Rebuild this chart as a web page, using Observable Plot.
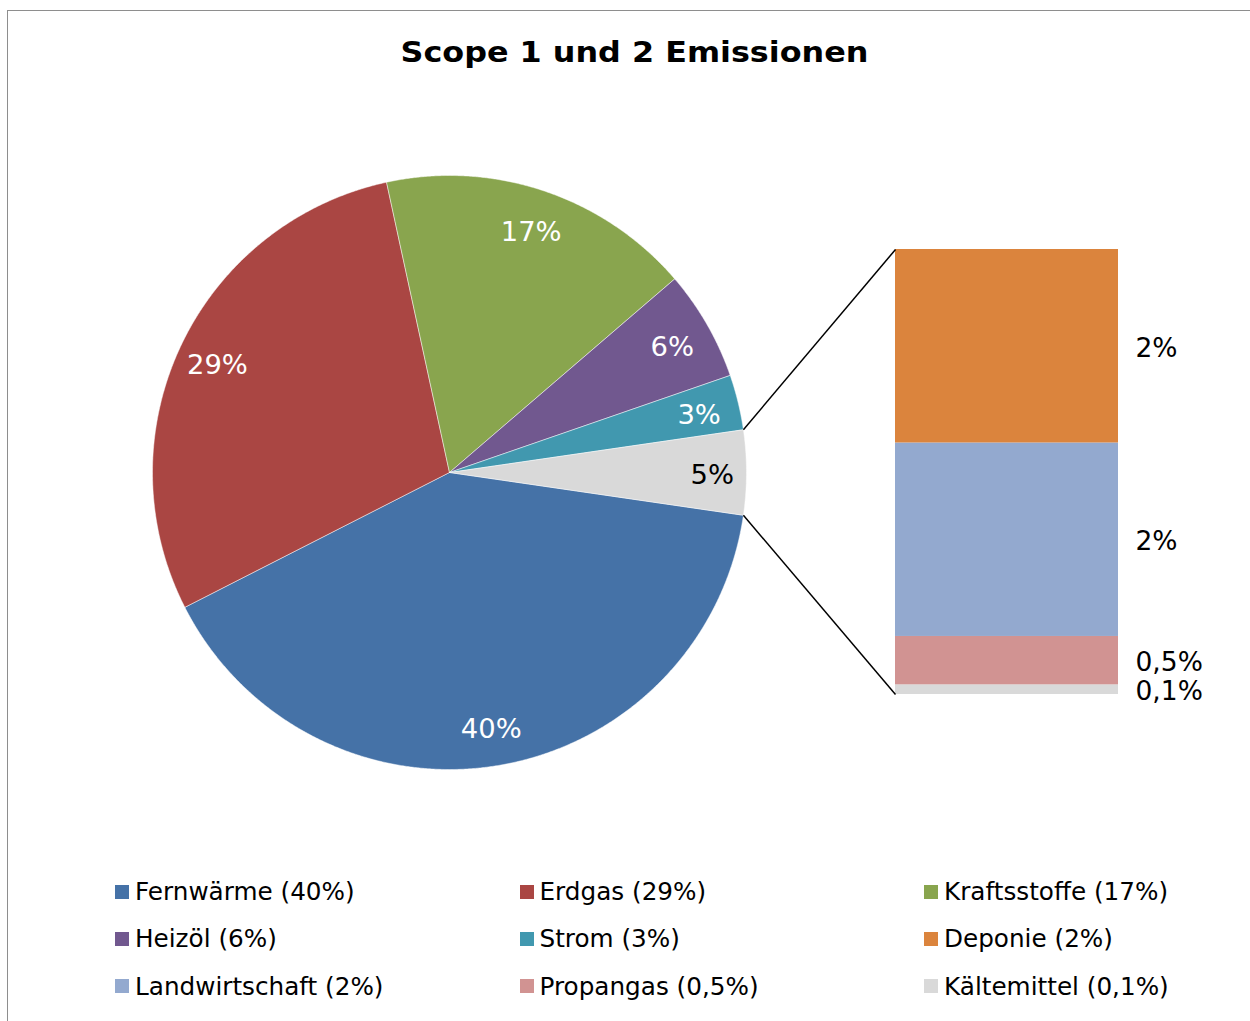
<!DOCTYPE html>
<html>
<head>
<meta charset="utf-8">
<script src="https://cdn.jsdelivr.net/npm/d3@7"></script>
<script src="https://cdn.jsdelivr.net/npm/@observablehq/plot@0.6"></script>
<style>
html, body { margin: 0; padding: 0; background: #fff; overflow: hidden; width: 1250px; height: 1021px; }
body { font-family: "DejaVu Sans", Verdana, sans-serif; position: relative; }
#frame { position: absolute; left: 7px; top: 10px; width: 1400px; height: 1200px;
  border-left: 1.5px solid #8e8e8e; border-top: 1.5px solid #8e8e8e; box-sizing: border-box; }
#title { position: absolute; left: 0; width: 1269px; top: 31px; line-height: 44px; text-align: center;
  font-weight: bold; font-size: 28.5px; color: #000; transform: scaleX(1.116); transform-origin: 634.5px 50%; }
#chart { position: absolute; left: 0; top: 90px; }
.item { position: absolute; display: flex; align-items: center; height: 30px; font-size: 24.7px; color: #000; white-space: nowrap; }
.sw { display: inline-block; width: 14px; height: 14px; margin-right: 6px; }
</style>
</head>
<body>
<div id="frame"></div>
<div id="title"></div>
<div id="chart"></div>
<div id="legend"></div>
<script>
// ---- data ----
const chartTitle = "Scope 1 und 2 Emissionen";
const categories = ["Fernwärme", "Erdgas", "Kraftsstoffe", "Heizöl", "Strom", "Deponie", "Landwirtschaft", "Propangas", "Kältemittel"];
const values = [40.2, 29.1, 17.1, 6.0, 3.0, 2.0, 2.0, 0.5, 0.1];
const colors = ["#4572A7", "#AA4643", "#89A54E", "#71588F", "#4198AF", "#DB843D", "#93A9CF", "#D19392", "#D9D9D9"];
const pieCount = 5;            // first five in the pie, the rest in the bar
const otherName = "Sonstige";
const otherColor = "#D9D9D9";

// ---- helpers ----
const fmt = v => v >= 1 ? Math.round(v) + "%" : v.toFixed(1).replace(".", ",") + "%";

document.getElementById("title").textContent = chartTitle;

// ---- layout ----
const W = 1250, H = 760, svgTop = 90;
const cx = 449, cy = 472 - svgTop, R = 297;
const barLeftPx = 895, barRightPx = 1118, barTopPx = 249 - svgTop, barBottomPx = 694 - svgTop;
const ux = px => (px - cx) / R;
const uy = py => (cy - py) / R;

// ---- pie slices ----
const total = d3.sum(values);
const otherVals = values.slice(pieCount);
const otherTotal = d3.sum(otherVals);
const ang = v => v / total * 2 * Math.PI;

const slices = [];
let a = ang(otherTotal) / 2;
for (let i = 0; i < pieCount; i++) {
  slices.push({name: categories[i], value: values[i], a0: a, a1: a + ang(values[i]), dark: false});
  a += ang(values[i]);
}
slices.push({name: otherName, value: otherTotal, a0: -ang(otherTotal) / 2, a1: ang(otherTotal) / 2, dark: true});

const pts = [];
for (const s of slices) {
  pts.push({name: s.name, x: 0, y: 0});
  const n = Math.max(4, Math.ceil((s.a1 - s.a0) / (Math.PI / 720)));
  for (let i = 0; i <= n; i++) {
    const t = s.a0 + (s.a1 - s.a0) * i / n;
    pts.push({name: s.name, x: Math.cos(t), y: -Math.sin(t)});
  }
  pts.push({name: s.name, x: 0, y: 0});
}
const labR = 0.865;
const mid = s => (s.a0 + s.a1) / 2;

// ---- bar of the remaining categories ----
const bx1 = ux(barLeftPx), bx2 = ux(barRightPx);
const byBottom = uy(barBottomPx), byTop = uy(barTopPx);
const k = (byTop - byBottom) / otherTotal;
const segs = [];
let cum = 0;
for (let i = values.length - 1; i >= pieCount; i--) {
  segs.push({name: categories[i], value: values[i], y1: byBottom + cum * k, y2: byBottom + (cum + values[i]) * k});
  cum += values[i];
}

const upper = slices[slices.length - 1].a0, lower = slices[slices.length - 1].a1;
const links = [
  {x1: Math.cos(upper), y1: -Math.sin(upper), x2: bx1, y2: byTop},
  {x1: Math.cos(lower), y1: -Math.sin(lower), x2: bx1, y2: byBottom}
];

const chart = Plot.plot({
  width: W, height: H, margin: 0,
  x: {domain: [ux(0), ux(W)], axis: null},
  y: {domain: [uy(H), uy(0)], axis: null},
  color: {domain: [...categories, otherName], range: [...colors, otherColor]},
  style: {fontFamily: "DejaVu Sans, Verdana, sans-serif", background: "transparent", overflow: "visible"},
  marks: [
    Plot.line(pts, {x: "x", y: "y", z: "name", fill: "name", stroke: "white", strokeWidth: 0.6, strokeOpacity: 0.8, curve: "linear"}),
    Plot.text(slices.filter(s => !s.dark), {x: s => labR * Math.cos(mid(s)), y: s => -labR * Math.sin(mid(s)), text: s => fmt(s.value), fill: "white", fontSize: 27.4, dy: 3}),
    Plot.text(slices.filter(s => s.dark), {x: s => 0.885 * Math.cos(mid(s)), y: s => -0.885 * Math.sin(mid(s)), text: s => fmt(s.value), fill: "black", fontSize: 27.4, dy: 3}),
    Plot.rect(segs, {x1: bx1, x2: bx2, y1: "y1", y2: "y2", fill: "name"}),
    Plot.link(links, {x1: "x1", y1: "y1", x2: "x2", y2: "y2", stroke: "black", strokeWidth: 1.5}),
    Plot.text(segs, {x: bx2 + 17 / R, y: d => (d.y1 + d.y2) / 2, text: d => fmt(d.value), textAnchor: "start", fill: "black", fontSize: 26.5, dy: 2})
  ]
});
document.getElementById("chart").appendChild(chart);

// ---- legend ----
const legend = document.getElementById("legend");
const colColor = d3.scaleOrdinal(categories, colors);
categories.forEach((c, i) => {
  const row = Math.floor(i / 3), col = i % 3;
  const div = document.createElement("div");
  div.className = "item";
  div.style.left = (115 + col * 404.5) + "px";
  div.style.top = (891.5 + row * 47.3 - 15) + "px";
  const sw = document.createElement("span");
  sw.className = "sw";
  sw.style.background = colColor(c);
  div.appendChild(sw);
  div.appendChild(document.createTextNode(c + " (" + fmt(values[i]) + ")"));
  legend.appendChild(div);
});
</script>
</body>
</html>
